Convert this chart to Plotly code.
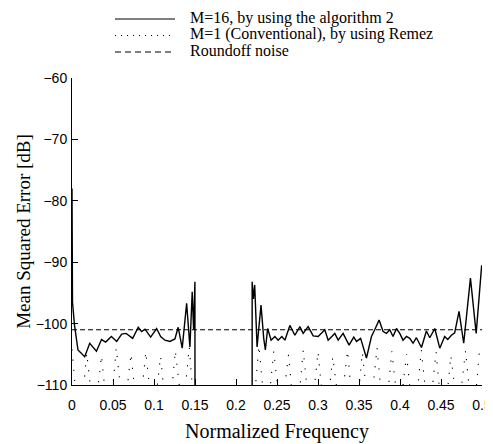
import plotly.graph_objects as go

# ---------------- data ----------------
# M=16, by using the algorithm 2 (passband, then stopband; None = gap)
alg2_freq = [0.0, 0.0006, 0.003, 0.0073, 0.0155, 0.0216, 0.0298, 0.036, 0.041, 0.048,
             0.0545, 0.0606, 0.066, 0.074, 0.0808, 0.0849, 0.089, 0.0959, 0.1032, 0.1081,
             0.1133, 0.1194, 0.1255, 0.1295, 0.1344, 0.1398, 0.1438, 0.1466, 0.1483, 0.1499,
             0.15, None,
             0.2197, 0.2197, 0.2212, 0.2228, 0.2257, 0.2305, 0.2338, 0.2358, 0.2386, 0.2428,
             0.2474, 0.2514, 0.2559, 0.2596, 0.2657, 0.2718, 0.2779, 0.2819, 0.2880, 0.2941,
             0.3002, 0.3083, 0.3124, 0.3205, 0.3246, 0.3306, 0.3379, 0.3436, 0.3470, 0.3520,
             0.3591, 0.3652, 0.3692, 0.3745, 0.3794, 0.3835, 0.3875, 0.3915, 0.3957, 0.3997,
             0.4037, 0.4079, 0.4119, 0.4159, 0.4200, 0.4262, 0.4322, 0.4363, 0.4424, 0.4485,
             0.4545, 0.4582, 0.4627, 0.4667, 0.4720, 0.4777, 0.4859, 0.4929, 0.4996]
alg2_db = [-78.0, -96.5, -100.2, -104.3, -105.4, -103.2, -104.5, -102.6, -103.0, -102.1,
           -102.9, -101.7, -101.6, -102.4, -100.6, -101.3, -100.9, -102.2, -100.8, -102.1,
           -102.7, -102.9, -102.5, -100.6, -104.0, -96.7, -103.8, -94.8, -101.0, -93.2,
           -112.0, None,
           -112.0, -93.2, -96.0, -93.7, -103.8, -97.0, -102.4, -104.3, -100.8, -102.7,
           -102.1, -102.7, -102.1, -102.7, -100.3, -101.9, -100.5, -101.6, -100.5, -102.0,
           -102.1, -101.0, -102.7, -101.6, -102.7, -101.6, -103.5, -102.2, -102.9, -102.4,
           -105.6, -102.1, -101.0, -99.4, -101.3, -101.6, -101.0, -102.1, -100.8, -101.6,
           -102.7, -102.1, -102.4, -103.2, -102.3, -103.9, -101.2, -102.3, -100.8, -104.0,
           -102.1, -102.6, -101.9, -101.5, -98.0, -103.2, -92.6, -101.6, -90.5]

# M=1 (Conventional), by using Remez (equiripple, nulls fall below the axis)
remez_freq = [0.000, 0.009, 0.018, 0.027, 0.036, 0.045, 0.054, 0.063, 0.072, 0.081,
              0.090, 0.099, 0.108, 0.117, 0.126, 0.135, 0.143, 0.150,
              None,
              0.220, 0.228, 0.237, 0.246, 0.255, 0.264, 0.273, 0.282, 0.291, 0.300,
              0.309, 0.318, 0.327, 0.336, 0.345, 0.354, 0.363, 0.372, 0.381, 0.390,
              0.399, 0.408, 0.417, 0.426, 0.435, 0.444, 0.453, 0.462, 0.471, 0.480,
              0.489, 0.497]
remez_db = [-104.2, -118.0, -104.8, -116.0, -105.2, -117.5, -104.0, -115.5, -104.9, -117.0,
            -104.6, -116.0, -105.3, -118.0, -104.4, -115.0, -103.8, -116.0,
            None,
            -116.0, -103.6, -117.0, -104.5, -115.5, -105.1, -118.0, -104.3, -116.5, -104.6,
            -117.0, -105.4, -115.0, -104.4, -118.0, -104.7, -116.0, -103.9, -117.5, -104.5,
            -115.5, -105.0, -117.0, -104.3, -116.0, -104.6, -118.0, -105.2, -115.0, -104.4,
            -117.0, -104.1]

# Roundoff noise level
noise_freq = [0.0, 0.5]
noise_db = [-101.0, -101.0]

x_ticks = [0, 0.05, 0.1, 0.15, 0.2, 0.25, 0.3, 0.35, 0.4, 0.45, 0.5]
x_tick_text = ["0", "0.05", "0.1", "0.15", "0.2", "0.25", "0.3", "0.35", "0.4", "0.45", "0.5"]
y_ticks = [-110, -100, -90, -80, -70, -60]

legend_labels = ["M=16, by using the algorithm 2",
                 "M=1 (Conventional), by using Remez",
                 "Roundoff noise"]

# ---------------- figure ----------------
SERIF = "Liberation Serif, Times New Roman, serif"
SANS = "Liberation Sans, Arial, sans-serif"

fig = go.Figure()
fig.add_trace(go.Scatter(x=remez_freq, y=remez_db, mode="lines", name=legend_labels[1],
                         line=dict(color="black", width=1.1, dash="1.2px,9px"),
                         connectgaps=False, showlegend=False))
fig.add_trace(go.Scatter(x=noise_freq, y=noise_db, mode="lines", name=legend_labels[2],
                         line=dict(color="black", width=1.2, dash="5px,3px"),
                         showlegend=False))
fig.add_trace(go.Scatter(x=alg2_freq, y=alg2_db, mode="lines", name=legend_labels[0],
                         line=dict(color="black", width=1.4),
                         connectgaps=False, showlegend=False))

# The page body has an 8px margin, so the figure is 8px smaller and margins shifted.
# Plot area (page px): x 72..482, y 78..385
W, H = 410.0, 307.0
PX0, PY1 = 72, 385
leg_rows = [(19, 18, "solid"), (35.5, 34.5, "1px,5px"), (52, 51, "6px,4px")]
for (ly, ty, dash), label in zip(leg_rows, legend_labels):
    yp = (PY1 - ly) / H
    fig.add_shape(type="line", xref="paper", yref="paper",
                  x0=(115 - PX0) / W, x1=(175 - PX0) / W, y0=yp, y1=yp,
                  line=dict(color="black", width=1.2, dash=dash))
    fig.add_annotation(xref="paper", yref="paper", x=(188 - PX0) / W, y=(PY1 - ty) / H,
                       text=label, showarrow=False, xanchor="left", yanchor="middle",
                       font=dict(family=SERIF, size=16, color="black"))

fig.update_layout(
    width=485, height=436,
    margin=dict(l=64, r=11, t=70, b=59, autoexpand=False),
    paper_bgcolor="white", plot_bgcolor="white",
    showlegend=False,
    xaxis=dict(range=[0, 0.5], tickvals=x_ticks, ticktext=x_tick_text,
               ticks="inside", ticklen=6, tickcolor="black", tickwidth=1,
               showline=True, linecolor="black", linewidth=1, mirror=False,
               showgrid=False, zeroline=False, automargin=False,
               tickfont=dict(family=SANS, size=14, color="black"),
               ticklabelstandoff=7,
               title=dict(text="Normalized Frequency", standoff=12,
                          font=dict(family=SERIF, size=20, color="black"))),
    yaxis=dict(range=[-110, -60], tickvals=y_ticks,
               ticks="inside", ticklen=6, tickcolor="black", tickwidth=1,
               showline=True, linecolor="black", linewidth=1, mirror=False,
               showgrid=False, zeroline=False, automargin=False,
               tickfont=dict(family=SANS, size=14, color="black"),
               ticklabelstandoff=1,
               title=dict(text="Mean Squared Error [dB]", standoff=0,
                          font=dict(family=SERIF, size=19, color="black"))),
)

fig.write_html("out.html")
